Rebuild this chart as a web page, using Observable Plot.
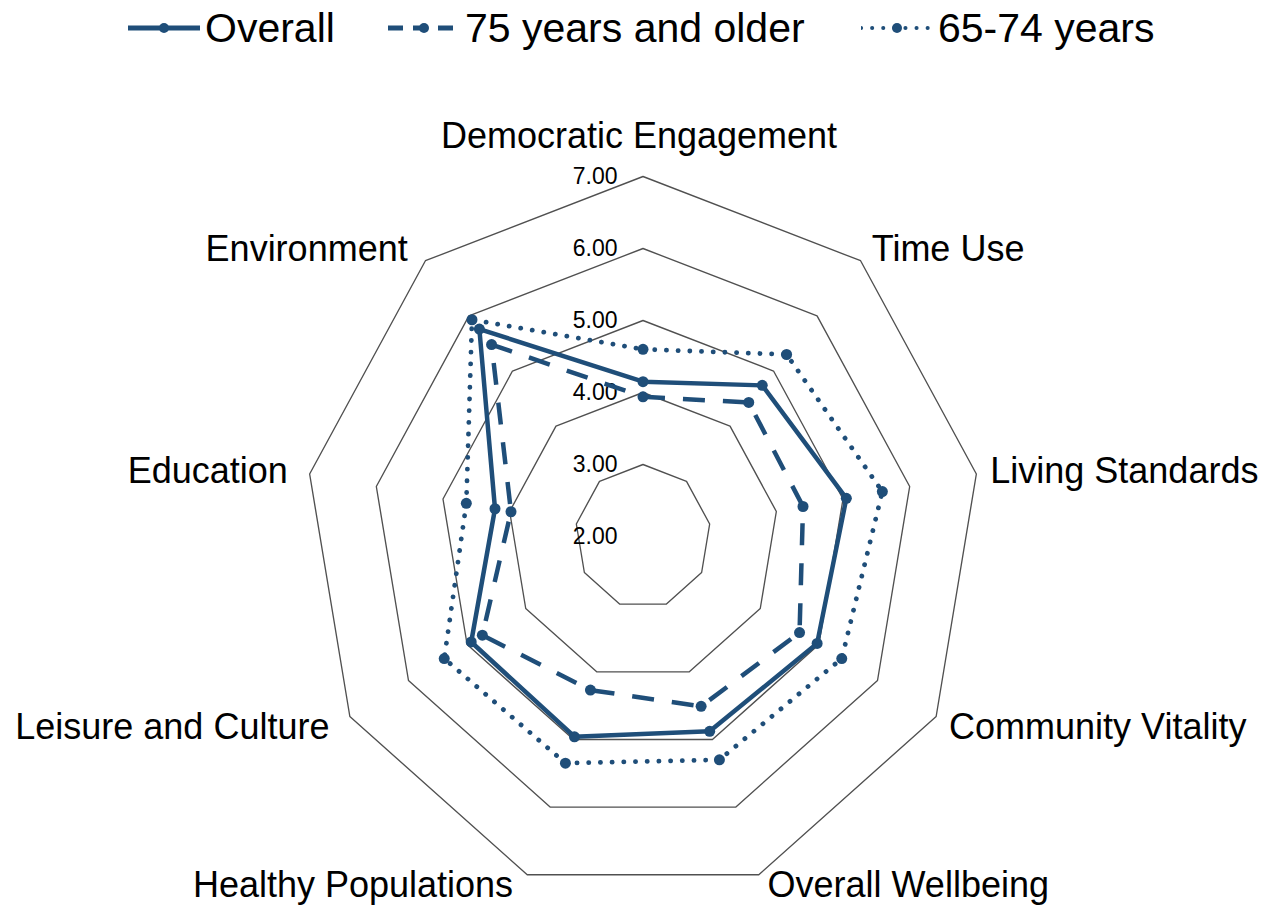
<!DOCTYPE html>
<html>
<head>
<meta charset="utf-8">
<script src="https://cdn.jsdelivr.net/npm/d3@7"></script>
<script src="https://cdn.jsdelivr.net/npm/@observablehq/plot@0.6"></script>
<style>
  html, body { margin: 0; padding: 0; background: #fff; }
  body { width: 1264px; height: 910px; overflow: hidden; font-family: "Liberation Sans", Arial, sans-serif; }
  #legend { height: 60px; position: relative; }
  .item { position: absolute; top: 0; display: flex; align-items: center; height: 56px; }
  .item span { font-size: 41px; line-height: 56px; color: #000; margin-left: 5px; white-space: nowrap; }
  svg { display: block; }
</style>
</head>
<body>
<div id="legend"></div>
<div id="chart"></div>
<script>
// ---- data ----
const categories = ["Democratic Engagement", "Time Use", "Living Standards", "Community Vitality",
  "Overall Wellbeing", "Healthy Populations", "Leisure and Culture", "Education", "Environment"];
const overall   = [4.15, 4.74, 5.05, 4.97, 4.88, 4.96, 4.93, 4.22, 5.76];
const age75plus = [3.94, 4.43, 4.40, 4.67, 4.51, 4.27, 4.74, 3.98, 5.48];
const age65to74 = [4.60, 5.30, 5.59, 5.39, 5.30, 5.35, 5.39, 4.65, 5.93];
const seriesNames = ["Overall", "75 years and older", "65-74 years"];
const tickValues = [2, 3, 4, 5, 6, 7];

// ---- layout ----
const color = "#1f4e79";
const W = 1264, H = 850, CX = 642.5, CY = 476, PX = 67.7, PY = 72;
const vMin = 2, vMax = 7;
const n = categories.length;
const ang = i => i * 2 * Math.PI / n;
const polX = (v, i) => (v - vMin) * Math.sin(ang(i));
const polY = (v, i) => (v - vMin) * Math.cos(ang(i));

const styles = [
  {dash: null, cap: "round", legendDash: null},
  {dash: "22 18", cap: "butt", legendDash: "15 10"},
  {dash: "0.1 11.6", cap: "round", legendDash: "0.1 11"}
];
const legendLeft = [128, 388, 861];
const seriesValues = [overall, age75plus, age65to74];

const rings = tickValues.filter(t => t > vMin).flatMap(t =>
  categories.map((c, i) => ({t, x: polX(t, i), y: polY(t, i)})));

const points = seriesNames.flatMap((s, k) =>
  seriesValues[k].map((v, i) => ({series: s, k, cat: categories[i], x: polX(v, i), y: polY(v, i)})));

const labels = categories.map((c, i) => {
  const s = Math.sin(ang(i)), co = Math.cos(ang(i));
  let dxp, dyp, side;
  if (i === 0) { dxp = -4; dyp = -40; side = "middle"; }
  else {
    dxp = s > 0 ? (6 + 8 * Math.abs(s)) : -(10 + 12 * Math.abs(s));
    dyp = co > 0 ? -15 * co : 11;
    side = s > 0 ? "start" : "end";
  }
  return {c, side, x: polX(vMax, i) + dxp / PX, y: polY(vMax, i) - dyp / PY};
});

const font = "Liberation Sans, Arial, sans-serif";

const marks = [
  Plot.line(rings, {x: "x", y: "y", z: "t", curve: "linear-closed", stroke: "#505050", strokeWidth: 1.35}),
  Plot.text(tickValues, {x: () => 0, y: t => t - vMin, text: t => t.toFixed(2), textAnchor: "end",
    dx: -25.5, fontSize: 23, fill: "#000", fontFamily: font}),
];
seriesNames.forEach((s, k) => {
  marks.push(Plot.line(points.filter(d => d.k === k), {
    x: "x", y: "y", curve: "linear-closed", stroke: color, strokeWidth: k === 2 ? 4.8 : 4.5,
    strokeDasharray: styles[k].dash, strokeLinecap: styles[k].cap, strokeLinejoin: "round"
  }));
  marks.push(Plot.dot(points.filter(d => d.k === k), {x: "x", y: "y", r: 5.5, fill: color, stroke: "none"}));
});
["middle", "start", "end"].forEach(side => {
  marks.push(Plot.text(labels.filter(d => d.side === side), {
    x: "x", y: "y", text: "c", textAnchor: side, fontSize: 36, fill: "#000", fontFamily: font
  }));
});

const chart = Plot.plot({
  width: W, height: H,
  marginTop: 0, marginRight: 0, marginBottom: 0, marginLeft: 0,
  x: {domain: [-CX / PX, (W - CX) / PX], axis: null},
  y: {domain: [-(H - CY) / PY, CY / PY], axis: null},
  style: {fontFamily: font, background: "#fff", overflow: "visible"},
  marks
});
document.getElementById("chart").appendChild(chart);

// ---- legend ----
const legend = d3.select("#legend");
seriesNames.forEach((s, k) => {
  const item = legend.append("div").attr("class", "item").style("left", legendLeft[k] + "px");
  const sv = item.append("svg").attr("width", 72).attr("height", 56);
  sv.append("line").attr("x1", 0).attr("x2", 72).attr("y1", 28).attr("y2", 28)
    .attr("stroke", color).attr("stroke-width", k === 2 ? 4 : 5)
    .attr("stroke-dasharray", styles[k].legendDash)
    .attr("stroke-linecap", styles[k].cap);
  sv.append("circle").attr("cx", 36).attr("cy", 28).attr("r", 5).attr("fill", color);
  item.append("span").text(s);
});
</script>
</body>
</html>
